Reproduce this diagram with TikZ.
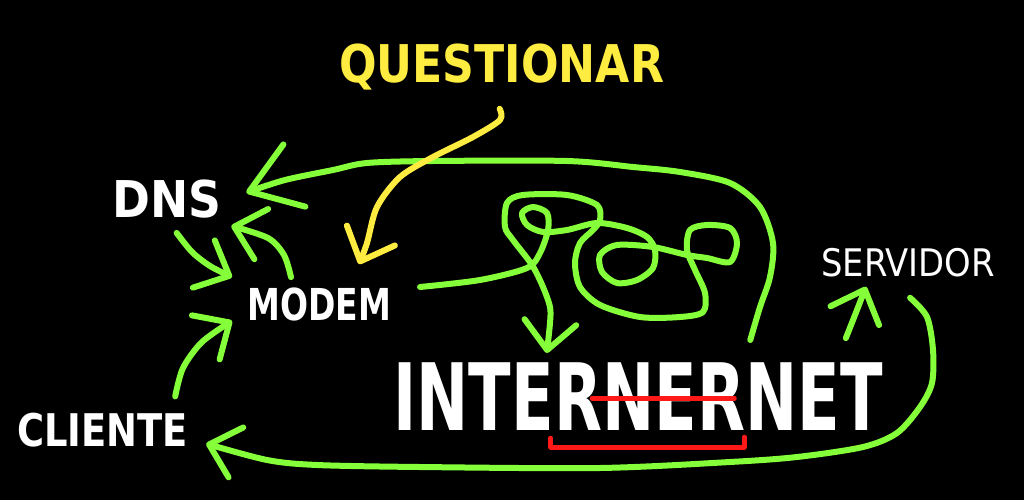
\documentclass[tikz,border=0pt]{standalone}
\usepackage{fontspec}
\usepackage{graphicx}
\usetikzlibrary{arrows.meta}
\newfontfamily\handfont{DejaVu Sans}
\definecolor{chalkgreen}{RGB}{132,255,58}
\definecolor{chalkyellow}{RGB}{255,236,64}
\definecolor{chalkred}{RGB}{255,24,24}
\newcommand{\squeeze}[2]{\scalebox{#1}[1]{#2}}
\tikzset{
  lbl/.style={text=white, inner sep=0pt, anchor=base west},
  txtsize/.style={font=\handfont\bfseries\fontsize{#1}{#1}\selectfont},
  thinsize/.style={font=\handfont\fontsize{#1}{#1}\selectfont},
  big/.style={lbl, txtsize=93},
  grn/.style={draw=chalkgreen, line width=6pt, line cap=round, line join=round},
  ylw/.style={draw=chalkyellow, line width=6pt, line cap=round, line join=round},
  redln/.style={draw=chalkred, line width=5pt, line cap=round, line join=round},
  barb/.style={-{Straight Barb[length=28pt,width=52pt,round]}},
  bigbarb/.style={-{Straight Barb[length=48pt,width=66pt,round]}},
}

\begin{document}
\begin{tikzpicture}[x=1pt,y=-1pt]
        % Background
        \useasboundingbox (0,0) rectangle (1024,500);
        \fill[black] (0,0) rectangle (1024,500);

        % Draw labels
        \node[lbl, txtsize=50.7] (dns) at (112,217) {\squeeze{0.9}{DNS}};
        \node[lbl, txtsize=44] (modem) at (247,320) {\squeeze{0.75}{MODEM}};
        \node[lbl, txtsize=45] (cliente) at (17,446) {\squeeze{0.82}{CLIENTE}};
        \node[lbl, thinsize=38] (servidor) at (821,276) {\squeeze{0.89}{SERVIDOR}};
        \node[lbl, txtsize=52, text=chalkyellow] (questionar) at (339,83) {\squeeze{0.85}{QUESTIONAR}};

        % Big word, in pieces for the red marks
        \node[big] (inte) at (393,430) {\squeeze{0.67}{INTE}};
        \node[big] (r) at (inte.base east) {\squeeze{0.67}{R}};
        \node[big] (ner) at (r.base east) {\squeeze{0.67}{NER}};
        \node[big] (net) at (ner.base east) {\squeeze{0.67}{NET}};

        % Red marks
        \draw[redln] ([shift={(-10,2)}]ner.west) -- ([shift={(-11,2)}]ner.east);
        \draw[redln] ([shift={(-3,8)}]r.south west) -- ([shift={(-3,17)}]r.south west)
            -- ([shift={(-1,17)}]ner.south east) -- ([shift={(-1,7)}]ner.south east);

        % End points of the connectors
        \coordinate (netout) at ([shift={(5,-22)}]net.north west);
        \coordinate (dnsin) at ([shift={(25,-6)}]dns.east);
        \coordinate (mdmout) at ([shift={(29,-17)}]modem.east);
        \coordinate (netin) at ([shift={(-7,-9)}]r.north west);

        % Big loop back to DNS
        \draw[grn,bigbarb] plot[smooth] coordinates {(netout) (760,307) (770,277) (773,243)
            (760,207) (730,183) (680,172) (633,167) (567,161) (433,161) (367,163) (333,170)
            (285,180) (dnsin)};

        % Arrows round the modem
        \draw[grn,barb] plot[smooth] coordinates {([shift={(10,15)}]dns.south) (192,252)
            (210,266) ([shift={(-15,-10)}]modem.north west)};
        \draw[grn,barb] plot[smooth] coordinates {([shift={(-28,-10)}]modem.north) (284,255)
            (268,238) ([shift={(10,8)}]dns.south east)};
        \draw[grn,barb] plot[smooth] coordinates {([shift={(-13,-16)}]cliente.north east)
            (183,368) (202,342) ([shift={(-15,0)}]modem.south west)};

        % Servidor back to cliente
        \draw[grn,barb] plot[smooth] coordinates {([shift={(2,21)}]servidor.south) (927,317)
            (933,350) (932,383) (920,407) (897,433) (863,447) (797,457) (730,462) (600,468)
            (420,467) (317,465) (267,460) ([shift={(18,14)}]cliente.east)};

        % Internet up to servidor
        \draw[grn,barb] plot[smooth] coordinates {([shift={(-37,-24)}]net.north east)
            (855,315) ([shift={(45,10)}]servidor.south west)};

        % Scribble from the modem into the internet
        \draw[grn,barb] plot[smooth] coordinates {(mdmout) (480,280) (527,268) (540,253)
            (548,230) (547,213) (533,207) (522,213) (527,225) (543,232) (567,230) (597,223)
            (627,228) (647,237) (655,250) (653,268) (637,280) (617,283) (602,272) (600,255)
            (617,245) (653,247) (687,255) (707,258) (730,262) (737,243) (730,228) (707,225)
            (690,230) (687,250) (695,270) (705,293) (703,312) (680,317) (640,317) (600,305)
            (580,287) (575,263) (580,243) (593,230) (600,220) (597,205) (567,195) (523,195)
            (507,203) (505,227) (513,240) (532,265) (543,287) (550,307) (550,323) (netin)};

        % Questionar down to the modem
        \draw[ylw,barb] plot[smooth] coordinates {([shift={(-2,18)}]questionar.south)
            (500,120) (473,137) (433,157) (400,177) (377,207) (367,243)
            ([shift={(40,-23)}]modem.north)};
    \end{tikzpicture}
\end{document}
